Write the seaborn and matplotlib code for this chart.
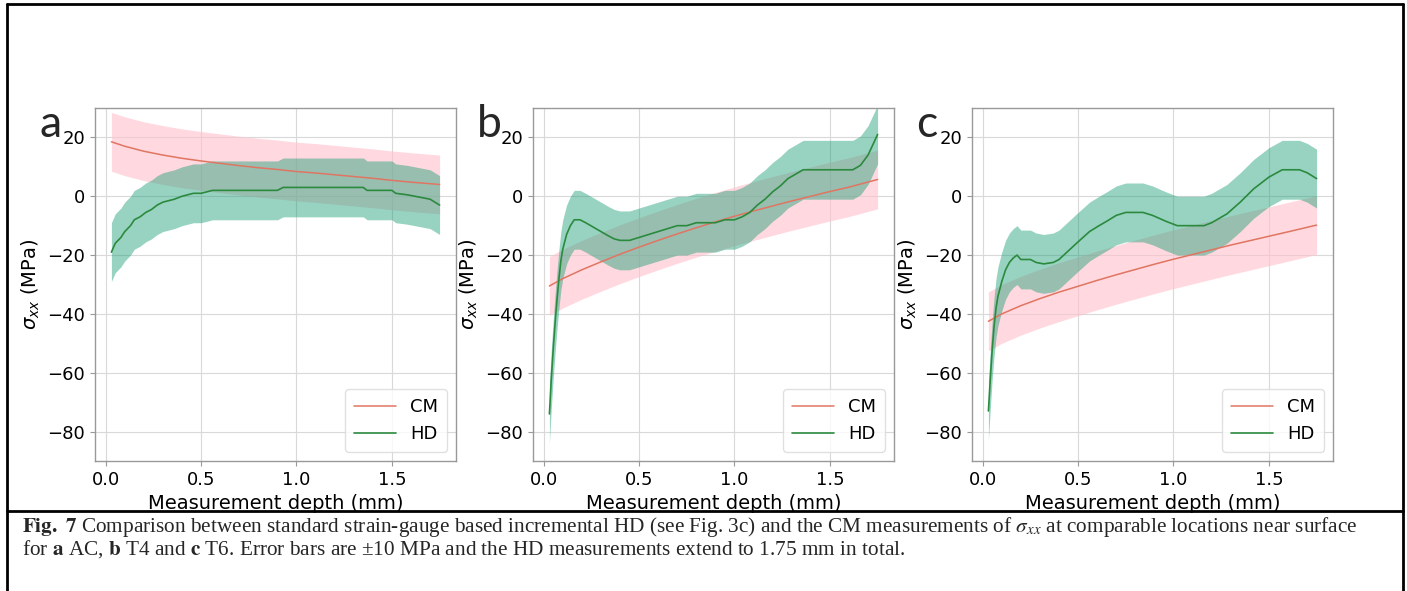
import numpy as np
import pandas as pd
import matplotlib
matplotlib.use("Agg")
import matplotlib.pyplot as plt
from matplotlib.lines import Line2D
import seaborn as sns

# --- data ---

# CM profiles share one depth grid (mm)
cm_depth = [0.03, 0.1, 0.2, 0.3, 0.4, 0.5, 0.6, 0.7, 0.8, 0.9, 1.0, 1.1, 1.2,
            1.3, 1.4, 1.5, 1.6, 1.75]
cm_a = [18.5, 17.0, 15.3, 14.0, 12.9, 12.0, 11.2, 10.4, 9.7, 9.1, 8.4, 7.9,
        7.3, 6.7, 6.1, 5.4, 4.8, 4.0]
cm_b = [-30.5, -28.0, -25.0, -22.3, -19.7, -17.3, -15.0, -12.8, -10.7, -8.7,
        -6.8, -5.0, -3.3, -1.6, 0.0, 1.6, 3.1, 5.7]
cm_c = [-42.5, -40.0, -37.2, -34.8, -32.6, -30.6, -28.6, -26.7, -24.9, -23.1,
        -21.4, -19.8, -18.2, -16.6, -15.1, -13.6, -12.1, -9.8]

# HD profiles
hd_a_x = [0.03, 0.05, 0.08, 0.10, 0.13, 0.15, 0.18, 0.21, 0.24, 0.27, 0.30,
          0.33, 0.36, 0.40, 0.43, 0.46, 0.50, 0.53, 0.56, 0.90, 0.93, 1.35,
          1.37, 1.50, 1.52, 1.58, 1.62, 1.66, 1.70, 1.75]
hd_a_y = [-19, -16, -14, -12, -10, -8, -7, -5.5, -4.5, -3, -2, -1.5, -1, 0,
          0.5, 1, 1, 1.5, 2, 2, 3, 3, 2, 2, 1, 0.5, 0, -0.5, -1, -3]

hd_b_x = [0.03, 0.04, 0.05, 0.06, 0.07, 0.08, 0.09, 0.10, 0.12, 0.14, 0.16,
          0.19, 0.22, 0.26, 0.30, 0.34, 0.37, 0.40, 0.45, 0.50, 0.55, 0.60,
          0.65, 0.70, 0.75, 0.80, 0.85, 0.90, 0.95, 1.00, 1.04, 1.08, 1.12,
          1.16, 1.20, 1.24, 1.28, 1.32, 1.36, 1.40, 1.50, 1.62, 1.66, 1.70,
          1.75]
hd_b_y = [-74, -62, -52, -43, -35, -28, -22, -18, -13, -10, -8, -8, -9, -10.5,
          -12, -13.5, -14.5, -15, -15, -14, -13, -12, -11, -10, -10, -9, -9,
          -9, -8, -8, -7, -5.5, -3, -1, 1.5, 3.5, 6, 7.5, 9, 9, 9, 9, 10.5,
          14, 21]

hd_c_x = [0.03, 0.04, 0.05, 0.06, 0.07, 0.08, 0.10, 0.12, 0.14, 0.16, 0.18,
          0.20, 0.25, 0.28, 0.32, 0.37, 0.40, 0.45, 0.50, 0.56, 0.61, 0.65,
          0.70, 0.75, 0.84, 0.89, 0.96, 1.02, 1.10, 1.16, 1.20, 1.28, 1.35,
          1.42, 1.50, 1.57, 1.66, 1.70, 1.75]
hd_c_y = [-73, -62, -52, -44, -38, -34, -29, -25, -22.5, -21, -20, -21.5,
          -21.5, -22.5, -23, -22.5, -21.5, -18.5, -15.5, -12, -10, -8.5, -6.5,
          -5.5, -5.5, -6.5, -8.5, -10, -10, -10, -9, -6, -2, 2.5, 6.5, 9, 9,
          8, 6]

err = 10  # MPa, both methods
panel_labels = ["a", "b", "c"]
yticks = [20, 0, -20, -40, -60, -80]
xticks = [0.0, 0.5, 1.0, 1.5]

panels = [
    (cm_a, hd_a_x, hd_a_y),
    (cm_b, hd_b_x, hd_b_y),
    (cm_c, hd_c_x, hd_c_y),
]

# --- style ---
sns.set_style("whitegrid", rc={
    "axes.edgecolor": "0.6",
    "axes.labelcolor": "black",
    "grid.color": "0.85",
    "xtick.bottom": True,
    "ytick.left": True,
    "xtick.color": "0.6",
    "ytick.color": "0.6",
})
plt.rcParams["font.family"] = ["DejaVu Sans"]

cm_line = "#e07562"
cm_fill = "pink"
hd_line = "#2b8a3e"
hd_fill = "#1b9e77"

fig = plt.figure(figsize=(14.07, 5.91), dpi=100)

lefts = [95, 533, 972]
for i, (cm_y, hx, hy) in enumerate(panels):
    ax = fig.add_axes([lefts[i] / 1407, 1 - 461 / 591, 361 / 1407, 353 / 591])

    cm_df = pd.DataFrame({"depth": cm_depth, "stress": cm_y})
    hd_df = pd.DataFrame({"depth": hx, "stress": hy})

    ax.fill_between(cm_df["depth"], cm_df["stress"] - err, cm_df["stress"] + err,
                    color=cm_fill, alpha=0.6, linewidth=0)
    ax.fill_between(hd_df["depth"], hd_df["stress"] - err, hd_df["stress"] + err,
                    color=hd_fill, alpha=0.45, linewidth=0)

    sns.lineplot(data=cm_df, x="depth", y="stress", ax=ax, color=cm_line,
                 linewidth=1.1, label="CM")
    sns.lineplot(data=hd_df, x="depth", y="stress", ax=ax, color=hd_line,
                 linewidth=1.2, label="HD")

    ax.set_xlim(-0.056, 1.836)
    ax.set_ylim(-90, 30)
    ax.set_xticks(xticks)
    ax.set_yticks(yticks)
    ax.tick_params(labelsize=13, length=3.5, width=0.8, labelcolor="black")
    ax.set_xlabel("Measurement depth (mm)", fontsize=14)
    ax.set_ylabel(r"$\sigma_{xx}$ (MPa)", fontsize=14)
    for s in ax.spines.values():
        s.set_linewidth(1.0)

    leg = ax.legend(loc="lower right", fontsize=13, handlelength=2.3,
                    frameon=True, fancybox=True, framealpha=0.8,
                    borderpad=0.5)
    leg.get_frame().set_edgecolor("0.85")
    for t in leg.get_texts():
        t.set_color("black")

    ax.text(-0.155, 0.918, panel_labels[i], transform=ax.transAxes,
            fontsize=32, family="Lato", ha="left", va="baseline")

# caption
cap_kw = dict(fontsize=15.3, family="Liberation Serif", math_fontfamily="stix",
              va="baseline", ha="left")
fig.text(22 / 1407, 1 - 532 / 591,
         r"$\mathbf{Fig.}$ $\mathbf{7}$ Comparison between standard strain-gauge based "
         r"incremental HD (see Fig. 3c) and the CM measurements of "
         r"$\sigma_{xx}$ at comparable locations near surface", **cap_kw)
fig.text(22 / 1407, 1 - 555 / 591,
         r"for $\mathbf{a}$ AC, $\mathbf{b}$ T4 and $\mathbf{c}$ T6. Error bars "
         r"are ±10 MPa and the HD measurements extend to 1.75 mm in total.",
         **cap_kw)

# page frame
frame_kw = dict(transform=fig.transFigure, color="black", linewidth=2.0)
fig.add_artist(Line2D([7 / 1407, 1403 / 1407], [1 - 4 / 591, 1 - 4 / 591], **frame_kw))
fig.add_artist(Line2D([7 / 1407, 7 / 1407], [0, 1 - 4 / 591], **frame_kw))
fig.add_artist(Line2D([1403 / 1407, 1403 / 1407], [0, 1 - 4 / 591], **frame_kw))
fig.add_artist(Line2D([7 / 1407, 1403 / 1407], [1 - 511 / 591, 1 - 511 / 591], **frame_kw))

fig.savefig("out.png", dpi=100)
